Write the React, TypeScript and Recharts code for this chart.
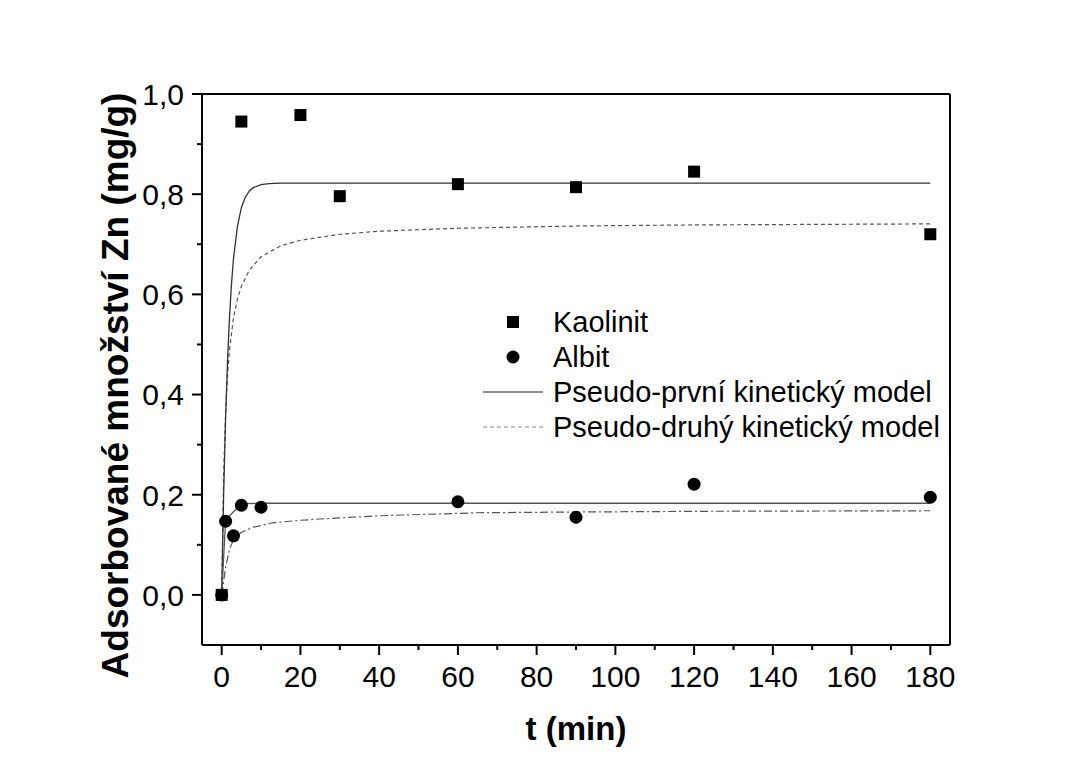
import React from 'react';
import { ComposedChart, Line, Scatter, XAxis, YAxis, ReferenceLine } from 'recharts';

// Measured data
const kaolinitT = [0, 5, 20, 30, 60, 90, 120, 180];
const kaolinitQ = [0, 0.945, 0.958, 0.796, 0.82, 0.814, 0.845, 0.72];
const albitT = [0, 1, 3, 5, 10, 60, 90, 120, 180];
const albitQ = [0, 0.147, 0.118, 0.179, 0.175, 0.186, 0.155, 0.221, 0.195];

// Fitted model curves
const kaoPfoT = [0, 0.5, 1, 1.5, 2, 2.5, 3, 4, 5, 6, 7, 8, 10, 12, 15, 20, 180];
const kaoPfoQ = [0, 0.202, 0.355, 0.47, 0.556, 0.622, 0.671, 0.736, 0.773, 0.794, 0.806, 0.813, 0.819, 0.821, 0.822, 0.822, 0.822];
const kaoPsoT = [0, 0.5, 1, 1.5, 2, 3, 4, 5, 7, 10, 15, 20, 30, 40, 60, 90, 120, 180];
const kaoPsoQ = [0, 0.241, 0.365, 0.44, 0.49, 0.553, 0.591, 0.616, 0.648, 0.675, 0.697, 0.708, 0.72, 0.726, 0.732, 0.7365, 0.7386, 0.7407];
const albPfoT = [0, 1, 5, 10, 180];
const albPfoQ = [0, 0.15, 0.182, 0.183, 0.183];
const albPsoT = [0, 1, 2, 3, 5, 8, 13, 20, 26, 40, 65, 90, 125, 180];
const albPsoQ = [0, 0.055, 0.092, 0.11, 0.125, 0.135, 0.144, 0.149, 0.152, 0.158, 0.164, 0.1655, 0.167, 0.168];

const xTicks = [0, 10, 20, 30, 40, 50, 60, 70, 80, 90, 100, 110, 120, 130, 140, 150, 160, 170, 180];
const yTicks = [0, 0.1, 0.2, 0.3, 0.4, 0.5, 0.6, 0.7, 0.8, 0.9, 1.0];
const legendNames = ['Kaolinit', 'Albit', 'Pseudo-první kinetický model', 'Pseudo-druhý kinetický model'];
const xLabel = 't (min)';
const yLabel = 'Adsorbované množství Zn (mg/g)';

const zip = (t: number[], q: number[]) => t.map((v, i) => ({ t: v, q: q[i] }));

const kaolinit = zip(kaolinitT, kaolinitQ);
const albit = zip(albitT, albitQ);
const kaoPfo = zip(kaoPfoT, kaoPfoQ);
const kaoPso = zip(kaoPsoT, kaoPsoQ);
const albPfo = zip(albPfoT, albPfoQ);
const albPso = zip(albPsoT, albPsoQ);

const FONT = '"Liberation Sans", Arial, sans-serif';

const XTick = (props: any) => {
  const { x, y, payload } = props;
  const major = Math.round(payload.value) % 20 === 0;
  const len = major ? 10 : 5;
  return (
    <g>
      <line x1={x} x2={x} y1={y} y2={y + len} stroke="#000" strokeWidth={2} />
      {major && (
        <text x={x} y={y + 42} textAnchor="middle" fontSize={30} fontFamily={FONT} fill="#000">
          {payload.value}
        </text>
      )}
    </g>
  );
};

const YTick = (props: any) => {
  const { x, y, payload } = props;
  const major = Math.round(payload.value * 10) % 2 === 0;
  const len = major ? 10 : 5;
  return (
    <g>
      <line x1={x - len} x2={x} y1={y} y2={y} stroke="#000" strokeWidth={2} />
      {major && (
        <text x={x - 18} y={y} dy="0.36em" textAnchor="end" fontSize={30} fontFamily={FONT} fill="#000">
          {payload.value.toFixed(1).replace('.', ',')}
        </text>
      )}
    </g>
  );
};

const SquareShape = (props: any) => (
  <rect x={props.cx - 6} y={props.cy - 6} width={12} height={12} fill="#000" />
);
const CircleShape = (props: any) => <circle cx={props.cx} cy={props.cy} r={6.5} fill="#000" />;

const Legend = () => (
  <svg width={490} height={145} style={{ display: 'block' }}>
    <rect x={24} y={12} width={12} height={12} fill="#000" />
    <circle cx={30} cy={53} r={6.5} fill="#000" />
    <line x1={0} x2={60} y1={88} y2={88} stroke="#666" strokeWidth={1.3} />
    <line x1={0} x2={60} y1={123} y2={123} stroke="#888" strokeWidth={1} strokeDasharray="4 3" />
    {legendNames.map((n, i) => (
      <text key={n} x={70} y={18 + i * 35} dy="0.36em" fontSize={29} fontFamily={FONT} fill="#000">
        {n}
      </text>
    ))}
  </svg>
);

export default function App() {
  return (
    <div style={{ position: 'relative', width: 1070, height: 750, background: '#fff' }}>
      <ComposedChart width={1070} height={750} margin={{ top: 86, right: 128, bottom: 13, left: 94 }}>
        <XAxis
          type="number"
          dataKey="t"
          domain={[-5, 185]}
          ticks={xTicks}
          interval={0}
          tickSize={0}
          tickMargin={0}
          tickLine={false}
          tick={<XTick />}
          axisLine={{ stroke: '#000', strokeWidth: 2 }}
          height={100}
          allowDataOverflow
          label={(p: any) => {
            const vb = p.viewBox;
            return (
              <text x={vb.x + vb.width / 2} y={vb.y + 95} textAnchor="middle" fontSize={33} fontWeight="bold" fontFamily={FONT} fill="#000">
                {xLabel}
              </text>
            );
          }}
        />
        <YAxis
          type="number"
          dataKey="q"
          domain={[-0.1, 1.0]}
          ticks={yTicks}
          interval={0}
          tickSize={0}
          tickMargin={0}
          tickLine={false}
          tick={<YTick />}
          axisLine={{ stroke: '#000', strokeWidth: 2 }}
          width={100}
          allowDataOverflow
          label={(p: any) => {
            const vb = p.viewBox;
            const cx = vb.x + 26;
            const cy = vb.y + vb.height / 2 + 16;
            return (
              <text x={cx} y={cy} transform={`rotate(-90, ${cx}, ${cy})`} textAnchor="middle" fontSize={37} fontWeight="bold" fontFamily={FONT} fill="#000">
                {yLabel}
              </text>
            );
          }}
        />
        <ReferenceLine y={1.0} stroke="#000" strokeWidth={2} />
        <ReferenceLine x={185} stroke="#000" strokeWidth={2} />
        <Line data={kaoPso} dataKey="q" type="linear" dot={false} stroke="#555" strokeWidth={1.2} strokeDasharray="4 3" isAnimationActive={false} />
        <Line data={albPso} dataKey="q" type="linear" dot={false} stroke="#555" strokeWidth={1.2} strokeDasharray="8 3 2 3" isAnimationActive={false} />
        <Line data={kaoPfo} dataKey="q" type="linear" dot={false} stroke="#333" strokeWidth={1.3} isAnimationActive={false} />
        <Line data={albPfo} dataKey="q" type="linear" dot={false} stroke="#555" strokeWidth={1.3} isAnimationActive={false} />
        <Scatter data={albit} dataKey="q" shape={<CircleShape />} isAnimationActive={false} />
        <Scatter data={kaolinit} dataKey="q" shape={<SquareShape />} isAnimationActive={false} />
      </ComposedChart>
      <div style={{ position: 'absolute', left: 475, top: 296 }}>
        <Legend />
      </div>
    </div>
  );
}
